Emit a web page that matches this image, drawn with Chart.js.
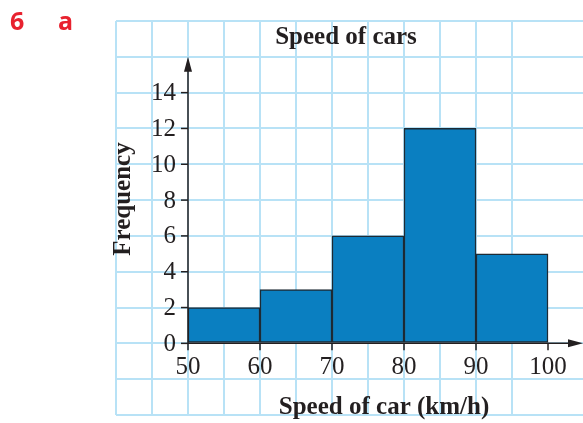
<!DOCTYPE html>
<html>
<head>
<meta charset="utf-8">
<script src="https://cdn.jsdelivr.net/npm/chart.js@4"></script>
<style>
  html, body { margin: 0; padding: 0; background: #ffffff; }
  #wrap { width: 583px; height: 423px; position: relative; }
</style>
</head>
<body>
<div id="wrap"><canvas id="c" width="583" height="423"></canvas></div>
<script>
// Class intervals (km/h) and frequencies
const classStarts = [50, 60, 70, 80, 90];
const classWidth = 10;
const frequencies = [2, 3, 6, 12, 5];
const xTickValues = [50, 60, 70, 80, 90, 100];
const yTickValues = [0, 2, 4, 6, 8, 10, 12, 14];

const titleText = 'Speed of cars';
const xTitle = 'Speed of car (km/h)';
const yTitle = 'Frequency';

const ink = '#231f20';
const serif = '"Liberation Serif", "Times New Roman", serif';

const barData = classStarts.map((s, i) => ({ x: s + classWidth / 2, y: frequencies[i] }));

// Axes with arrows, tick marks, labels and headings drawn over the grid
const axesPlugin = {
  id: 'axesPlugin',
  afterDatasetsDraw(chart) {
    const ctx = chart.ctx;
    const xs = chart.scales.x, ys = chart.scales.y;
    const ox = xs.getPixelForValue(50), oy = ys.getPixelForValue(0);
    const topY = ys.getPixelForValue(16);
    const rightX = chart.chartArea.right;
    ctx.save();
    ctx.strokeStyle = ink; ctx.fillStyle = ink; ctx.lineWidth = 1.5;
    // vertical axis
    ctx.beginPath(); ctx.moveTo(ox, oy); ctx.lineTo(ox, topY + 10); ctx.stroke();
    ctx.beginPath(); ctx.moveTo(ox, topY); ctx.lineTo(ox - 4, topY + 15); ctx.lineTo(ox + 4, topY + 15); ctx.closePath(); ctx.fill();
    // horizontal axis
    ctx.beginPath(); ctx.moveTo(ox, oy); ctx.lineTo(rightX - 10, oy); ctx.stroke();
    ctx.beginPath(); ctx.moveTo(rightX, oy); ctx.lineTo(rightX - 15, oy - 4); ctx.lineTo(rightX - 15, oy + 4); ctx.closePath(); ctx.fill();
    // y ticks and labels
    ctx.font = '25px ' + serif;
    ctx.textAlign = 'right'; ctx.textBaseline = 'middle';
    yTickValues.forEach(v => {
      const py = ys.getPixelForValue(v);
      ctx.beginPath(); ctx.moveTo(ox - 7, py); ctx.lineTo(ox, py); ctx.stroke();
      ctx.fillText(String(v), ox - 12, py + 1);
    });
    // x ticks and labels
    ctx.textAlign = 'center'; ctx.textBaseline = 'top';
    xTickValues.forEach(v => {
      const px = xs.getPixelForValue(v);
      ctx.beginPath(); ctx.moveTo(px, oy); ctx.lineTo(px, oy + 7); ctx.stroke();
      ctx.fillText(String(v), px, oy + 12);
    });
    // headings
    ctx.font = 'bold 25px ' + serif;
    ctx.textAlign = 'center'; ctx.textBaseline = 'alphabetic';
    ctx.fillText(titleText, 346, 44);
    ctx.fillText(xTitle, 384, 414);
    ctx.save();
    ctx.translate(130, 199); ctx.rotate(-Math.PI / 2);
    ctx.fillText(yTitle, 0, 0);
    ctx.restore();
    // part label
    ctx.fillStyle = '#e8222f';
    ctx.font = 'bold 25px "Open Sans", "Liberation Sans", sans-serif';
    ctx.textAlign = 'left';
    ctx.fillText('6', 10, 30);
    ctx.fillText('a', 58, 30);
    ctx.restore();
  }
};

new Chart(document.getElementById('c'), {
  type: 'bar',
  data: {
    datasets: [{
      data: barData,
      backgroundColor: '#0a7fc1',
      borderColor: '#1d2a34',
      borderWidth: 1.5,
      borderSkipped: false,
      barThickness: 'flex',
      barPercentage: 1,
      categoryPercentage: 1
    }]
  },
  options: {
    responsive: false,
    animation: false,
    devicePixelRatio: 1,
    layout: { padding: { left: 116, top: 21, right: 0, bottom: 8 } },
    plugins: { legend: { display: false }, tooltip: { enabled: false }, title: { display: false } },
    scales: {
      x: {
        type: 'linear', min: 40, max: 104.86, offset: false,
        ticks: { display: false, stepSize: 5 },
        afterBuildTicks: s => { s.ticks = s.ticks.filter(t => Math.abs(t.value % 5) < 1e-6); },
        grid: { color: '#b8e2f6', lineWidth: 2, drawTicks: false, offset: false },
        border: { display: false }
      },
      y: {
        min: -4, max: 18,
        ticks: { display: false, stepSize: 2 },
        grid: { color: '#b8e2f6', lineWidth: 2, drawTicks: false },
        border: { display: false }
      }
    }
  },
  plugins: [axesPlugin]
});
</script>
</body>
</html>
